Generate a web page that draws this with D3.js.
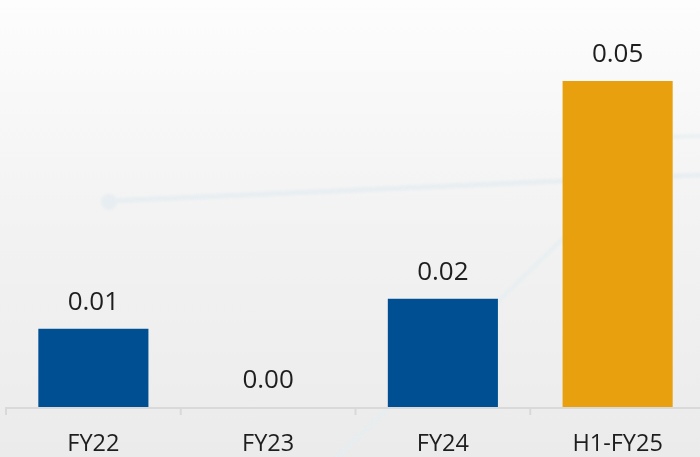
<!DOCTYPE html>
<html>
<head>
<meta charset="utf-8">
<script src="https://cdn.jsdelivr.net/npm/d3@7"></script>
<style>
  html, body { margin: 0; padding: 0; background: #fff; }
  svg { display: block; }
</style>
</head>
<body>
<svg id="chart" width="700" height="457"></svg>
<script>
// Periods and their values (labels show two decimals)
const categories = ["FY22", "FY23", "FY24", "H1-FY25"];
const values = [0.012, 0.0, 0.0166, 0.05];
const barColors = ["#004f93", "#004f93", "#004f93", "#e8a00e"];

const W = 700, H = 457;
const svg = d3.select("#chart");

// Soft grey backdrop
const defs = svg.append("defs");
const grad = defs.append("linearGradient")
  .attr("id", "bg").attr("x1", 0).attr("y1", 0).attr("x2", 0).attr("y2", 1);
grad.append("stop").attr("offset", "0%").attr("stop-color", "#fdfdfd");
grad.append("stop").attr("offset", "45%").attr("stop-color", "#f3f3f3");
grad.append("stop").attr("offset", "100%").attr("stop-color", "#ebebeb");
svg.append("rect").attr("width", W).attr("height", H).attr("fill", "url(#bg)");

const blur = defs.append("filter").attr("id", "soft")
  .attr("x", "-10%").attr("y", "-10%").attr("width", "120%").attr("height", "120%");
blur.append("feGaussianBlur").attr("stdDeviation", 1.2);

// Faint decorative trend lines behind the bars
const deco = svg.append("g").attr("filter", "url(#soft)").attr("fill", "none")
  .attr("stroke", "#e5edf1").attr("stroke-linecap", "round").attr("opacity", 0.85);
deco.append("path").attr("d", "M109,201 L700,175").attr("stroke-width", 5);
deco.append("circle").attr("cx", 109).attr("cy", 202).attr("r", 8)
  .attr("fill", "#e5edf1").attr("stroke", "none");
deco.append("path").attr("d", "M332,462 L668,137 L700,136").attr("stroke-width", 4)
  .attr("opacity", 0.8);

// Scales
const baseY = 407;
const x = d3.scaleBand().domain(categories).range([6, 705])
  .paddingInner(0.37).paddingOuter(0.185);
const y = d3.scaleLinear().domain([0, 0.05]).range([baseY, 81]);
const fmt = d3.format(".2f");

const data = categories.map((c, i) => ({ c, v: values[i], color: barColors[i] }));

// Bars
svg.append("g").selectAll("rect").data(data).join("rect")
  .attr("x", d => x(d.c))
  .attr("y", d => y(d.v))
  .attr("width", x.bandwidth())
  .attr("height", d => y(0) - y(d.v))
  .attr("fill", d => d.color);

// Value labels
svg.append("g").selectAll("text").data(data).join("text")
  .attr("x", d => x(d.c) + x.bandwidth() / 2)
  .attr("y", d => y(d.v) - 19)
  .attr("text-anchor", "middle")
  .attr("font-family", "'Open Sans', sans-serif")
  .attr("font-size", 26)
  .attr("fill", "#1e1e1e")
  .text(d => fmt(d.v));

// Category axis: baseline with ticks at band boundaries
const step = x.step();
const half = step * x.paddingInner() / 2;
const boundaries = categories.map(c => x(c) - half).concat([x(categories[categories.length - 1]) + x.bandwidth() + half]);
const axis = svg.append("g");
axis.append("line")
  .attr("x1", boundaries[0]).attr("x2", W)
  .attr("y1", baseY + 1).attr("y2", baseY + 1)
  .attr("stroke", "#d9d9d9").attr("stroke-width", 2);
axis.selectAll("line.tick").data(boundaries).join("line")
  .attr("class", "tick")
  .attr("x1", d => d).attr("x2", d => d)
  .attr("y1", baseY).attr("y2", baseY + 8)
  .attr("stroke", "#d9d9d9").attr("stroke-width", 2);
axis.selectAll("text").data(categories).join("text")
  .attr("x", d => x(d) + x.bandwidth() / 2)
  .attr("y", 451)
  .attr("text-anchor", "middle")
  .attr("font-family", "'Open Sans', sans-serif")
  .attr("font-size", 23.5)
  .attr("fill", "#1e1e1e")
  .text(d => d);
</script>
</body>
</html>
